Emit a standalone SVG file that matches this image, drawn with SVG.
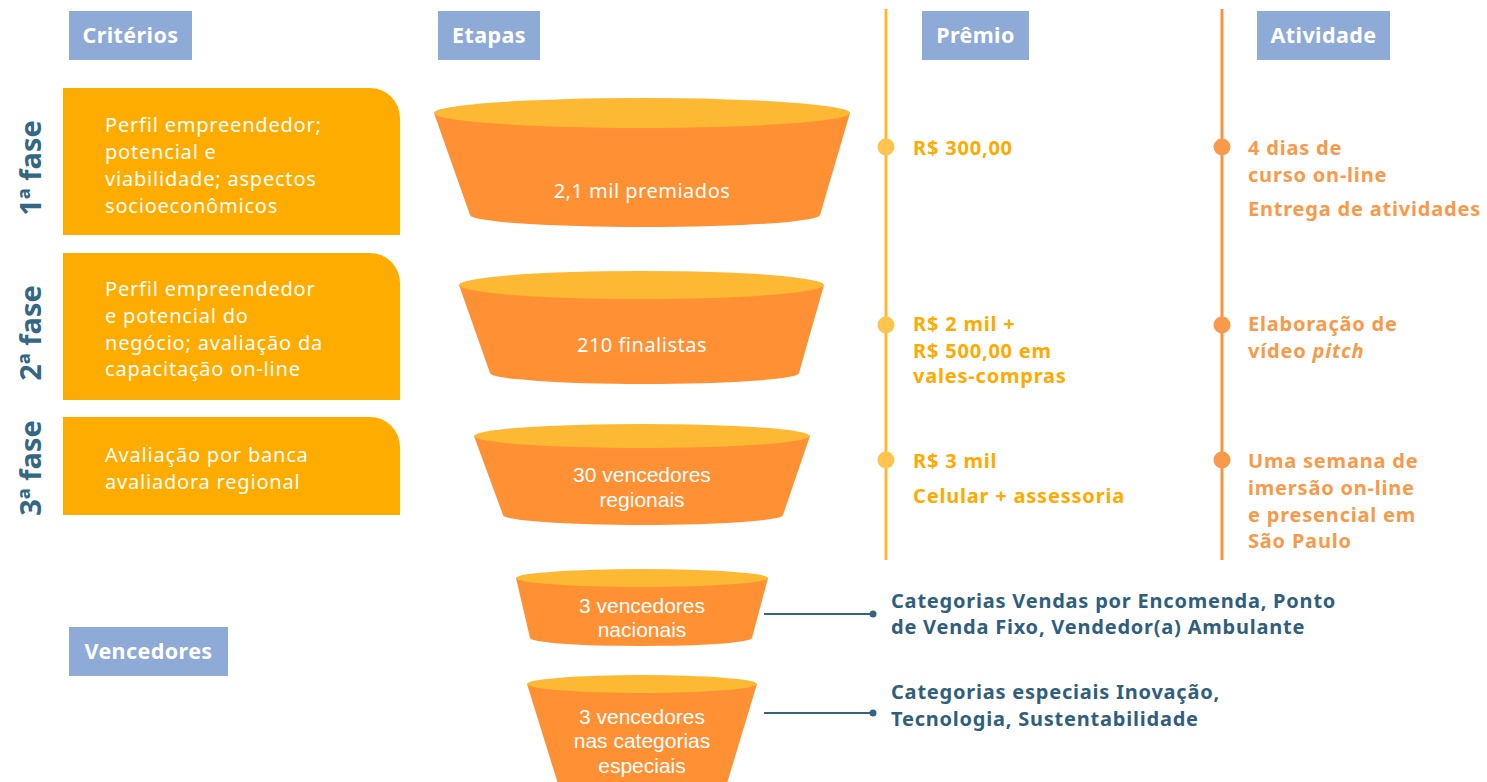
<svg xmlns="http://www.w3.org/2000/svg" width="1487" height="782" viewBox="0 0 1487 782">
<style>
.hdr{fill:#8EAAD6}
.hdrt{font-family:"Noto Sans","Liberation Sans",sans-serif;font-weight:700;font-size:21.5px;letter-spacing:0.4px;fill:#fff}
.crit{fill:#FFAC00}
.critt{font-family:"Noto Sans","Liberation Sans",sans-serif;font-size:20px;letter-spacing:0.8px;fill:#fff}
.phase{font-family:"Noto Sans","Liberation Sans",sans-serif;font-weight:700;font-size:29px;fill:#346782}
.body{fill:#FF9033}
.top{fill:#FDB933}
.ft{font-family:"Noto Sans","Liberation Sans",sans-serif;font-size:20px;letter-spacing:0.5px;fill:#fff;text-anchor:middle}
.ft2{font-family:"Liberation Sans",sans-serif;font-size:21px;fill:#fff;text-anchor:middle}
.pz{font-family:"Noto Sans","Liberation Sans",sans-serif;font-weight:700;font-size:20px;letter-spacing:0.8px;fill:#FFAA00}
.ac{font-family:"Noto Sans","Liberation Sans",sans-serif;font-weight:700;font-size:20px;letter-spacing:0.8px;fill:#F99A4A}
.win{font-family:"Noto Sans","Liberation Sans",sans-serif;font-weight:700;font-size:20px;letter-spacing:0.78px;fill:#2F5F7D}
.conn{stroke:#336480;stroke-width:2;fill:none}
</style>

<g id="headers">
<g id="h-criterios"><rect class="hdr" x="69" y="11" width="123" height="49"/><text class="hdrt" x="130.5" y="43" text-anchor="middle">Critérios</text></g>
<g id="h-etapas"><rect class="hdr" x="438" y="11" width="102" height="49"/><text class="hdrt" x="489" y="43" text-anchor="middle">Etapas</text></g>
<g id="h-premio"><rect class="hdr" x="922" y="11" width="107" height="49"/><text class="hdrt" x="975.5" y="43" text-anchor="middle">Prêmio</text></g>
<g id="h-atividade"><rect class="hdr" x="1257" y="11" width="133" height="49"/><text class="hdrt" x="1323.5" y="43" text-anchor="middle">Atividade</text></g>
<g id="h-vencedores"><rect class="hdr" x="69" y="627" width="159" height="49"/><text class="hdrt" x="148.5" y="659" text-anchor="middle">Vencedores</text></g>
</g>

<g id="timelines">
<line x1="886" y1="9" x2="886" y2="560" stroke="#FDB933" stroke-width="3"/>
<line x1="1222" y1="9" x2="1222" y2="560" stroke="#F99240" stroke-width="3"/>
<circle cx="886" cy="147" r="8.5" fill="#FFC44D"/>
<circle cx="886" cy="325" r="8.5" fill="#FFC44D"/>
<circle cx="886" cy="460" r="8.5" fill="#FFC44D"/>
<circle cx="1222" cy="147" r="8.5" fill="#F99A4A"/>
<circle cx="1222" cy="325" r="8.5" fill="#F99A4A"/>
<circle cx="1222" cy="460" r="8.5" fill="#F99A4A"/>
</g>

<g id="phase1">
<text class="phase" transform="translate(41,168) rotate(-90)" text-anchor="middle">1ª fase</text>
<path class="crit" d="M63,88 H370 A30,30 0 0 1 400,118 V235 H63 Z"/>
<text class="critt" x="105" y="132">Perfil empreendedor;</text>
<text class="critt" x="105" y="159">potencial e</text>
<text class="critt" x="105" y="186">viabilidade; aspectos</text>
<text class="critt" x="105" y="213">socioeconômicos</text>
</g>
<g id="phase2">
<text class="phase" transform="translate(41,333) rotate(-90)" text-anchor="middle">2ª fase</text>
<path class="crit" d="M63,253 H370 A30,30 0 0 1 400,283 V400 H63 Z"/>
<text class="critt" x="105" y="296">Perfil empreendedor</text>
<text class="critt" x="105" y="323">e potencial do</text>
<text class="critt" x="105" y="350">negócio; avaliação da</text>
<text class="critt" x="105" y="376">capacitação on-line</text>
</g>
<g id="phase3">
<text class="phase" transform="translate(41,468) rotate(-90)" text-anchor="middle">3ª fase</text>
<path class="crit" d="M63,417 H370 A30,30 0 0 1 400,447 V515 H63 Z"/>
<text class="critt" x="105" y="462">Avaliação por banca</text>
<text class="critt" x="105" y="489">avaliadora regional</text>
</g>

<g id="funnel1">
<path class="body" d="M434,113 L470,215 A175,12 0 0 0 820,215 L850,113 Z"/>
<ellipse class="top" cx="642" cy="113" rx="208" ry="15"/>
<text class="ft" x="642" y="198">2,1 mil premiados</text>
</g>
<g id="funnel2">
<path class="body" d="M459,285 L490,373 A154.5,11 0 0 0 799,373 L824,285 Z"/>
<ellipse class="top" cx="641.5" cy="285" rx="182.5" ry="14"/>
<text class="ft" x="642" y="352">210 finalistas</text>
</g>
<g id="funnel3">
<path class="body" d="M474,436 L503,515 A140,10 0 0 0 783,515 L810,436 Z"/>
<ellipse class="top" cx="642" cy="436" rx="168" ry="12"/>
<text class="ft2" x="642" y="482">30 vencedores</text>
<text class="ft2" x="642" y="507">regionais</text>
</g>
<g id="funnel4">
<path class="body" d="M516,578 L530,638 A111,8 0 0 0 752,638 L768,578 Z"/>
<ellipse class="top" cx="642" cy="578" rx="126" ry="9"/>
<text class="ft2" x="642" y="613">3 vencedores</text>
<text class="ft2" x="642" y="637">nacionais</text>
</g>
<g id="funnel5">
<path class="body" d="M527,684 L563,800 L722,800 L757,684 Z"/>
<ellipse class="top" cx="642" cy="684" rx="115" ry="9"/>
<text class="ft2" x="642" y="724">3 vencedores</text>
<text class="ft2" x="642" y="748">nas categorias</text>
<text class="ft2" x="642" y="773">especiais</text>
</g>

<g id="connectors">
<line class="conn" x1="764" y1="614" x2="873" y2="614"/>
<circle cx="873" cy="614" r="3.5" fill="#336480"/>
<line class="conn" x1="764" y1="713" x2="873" y2="713"/>
<circle cx="873" cy="713" r="3.5" fill="#336480"/>
</g>

<g id="premio">
<text class="pz" x="913" y="155">R$ 300,00</text>
<text class="pz" x="913" y="331">R$ 2 mil +</text>
<text class="pz" x="913" y="358">R$ 500,00 em</text>
<text class="pz" x="913" y="383">vales-compras</text>
<text class="pz" x="913" y="468">R$ 3 mil</text>
<text class="pz" x="913" y="503">Celular + assessoria</text>
</g>

<g id="atividade">
<text class="ac" x="1248" y="155">4 dias de</text>
<text class="ac" x="1248" y="182">curso on-line</text>
<text class="ac" x="1248" y="216">Entrega de atividades</text>
<text class="ac" x="1248" y="331">Elaboração de</text>
<text class="ac" x="1248" y="358">vídeo <tspan font-style="italic">pitch</tspan></text>
<text class="ac" x="1248" y="468">Uma semana de</text>
<text class="ac" x="1248" y="495">imersão on-line</text>
<text class="ac" x="1248" y="522">e presencial em</text>
<text class="ac" x="1248" y="548">São Paulo</text>
</g>

<g id="vencedores-text">
<text class="win" x="891" y="608">Categorias Vendas por Encomenda, Ponto</text>
<text class="win" x="891" y="634">de Venda Fixo, Vendedor(a) Ambulante</text>
<text class="win" x="891" y="699">Categorias especiais Inovação,</text>
<text class="win" x="891" y="726">Tecnologia, Sustentabilidade</text>
</g>
</svg>
